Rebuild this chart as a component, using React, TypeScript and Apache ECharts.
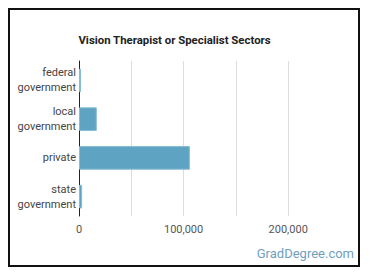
import React, { useEffect, useRef } from "react";
import * as echarts from "echarts";

const categories = ["federal\ngovernment", "local\ngovernment", "private", "state\ngovernment"];
const values = [1900, 17000, 106000, 3000];
const xTickLabels = [0, 100000, 200000];
const titleText = "Vision Therapist or Specialist Sectors";
const watermark = "GradDegree.com";

export default function App() {
  const ref = useRef<HTMLDivElement>(null);
  useEffect(() => {
    if (!ref.current) return;
    const chart = echarts.init(ref.current, undefined, { renderer: "svg" });
    chart.setOption({
      animation: false,
      textStyle: { fontFamily: "Roboto" },
      grid: { left: 69, top: 51, bottom: 49, right: 17.5, containLabel: false },
      xAxis: {
        type: "value",
        min: 0,
        max: 250000,
        interval: 50000,
        axisLine: { show: false },
        axisTick: { show: false },
        splitLine: { show: true, showMaxLine: false, lineStyle: { color: "#dddddd", width: 1 } },
        axisLabel: {
          color: "#555",
          fontSize: 11,
          fontFamily: "Roboto",
          margin: 8,
          formatter: (v: number) => (xTickLabels.includes(v) ? v.toLocaleString("en-US") : ""),
        },
      },
      yAxis: {
        type: "category",
        inverse: true,
        data: categories,
        axisLine: { show: true, lineStyle: { color: "#222", width: 1 } },
        axisTick: { show: false },
        axisLabel: {
          color: "#444",
          fontSize: 11,
          fontFamily: "Roboto",
          lineHeight: 15,
          margin: 3,
          align: "right",
        },
      },
      series: [
        {
          type: "bar",
          data: values,
          barWidth: "61%",
          itemStyle: { color: "#5ea4c2", borderColor: "#86bcd4", borderWidth: 1 },
        },
      ],
      graphic: [
        {
          type: "text",
          x: 164.5,
          y: 30,
          style: {
            text: titleText,
            fontFamily: "Roboto",
            fontSize: 11.4,
            fontWeight: "bold",
            fill: "#222",
            textAlign: "center",
            textVerticalAlign: "middle",
          },
        },
        {
          type: "text",
          right: 4,
          top: 237,
          style: { text: watermark, fontFamily: "Roboto", fontSize: 13, fill: "#6f9fbf" },
        },
      ],
    });
    return () => chart.dispose();
  }, []);
  return (
    <div
      style={{
        width: 352,
        height: 259,
        border: "2px solid #111",
        boxSizing: "border-box",
      }}
    >
      <div ref={ref} style={{ width: 348, height: 255 }} />
    </div>
  );
}
